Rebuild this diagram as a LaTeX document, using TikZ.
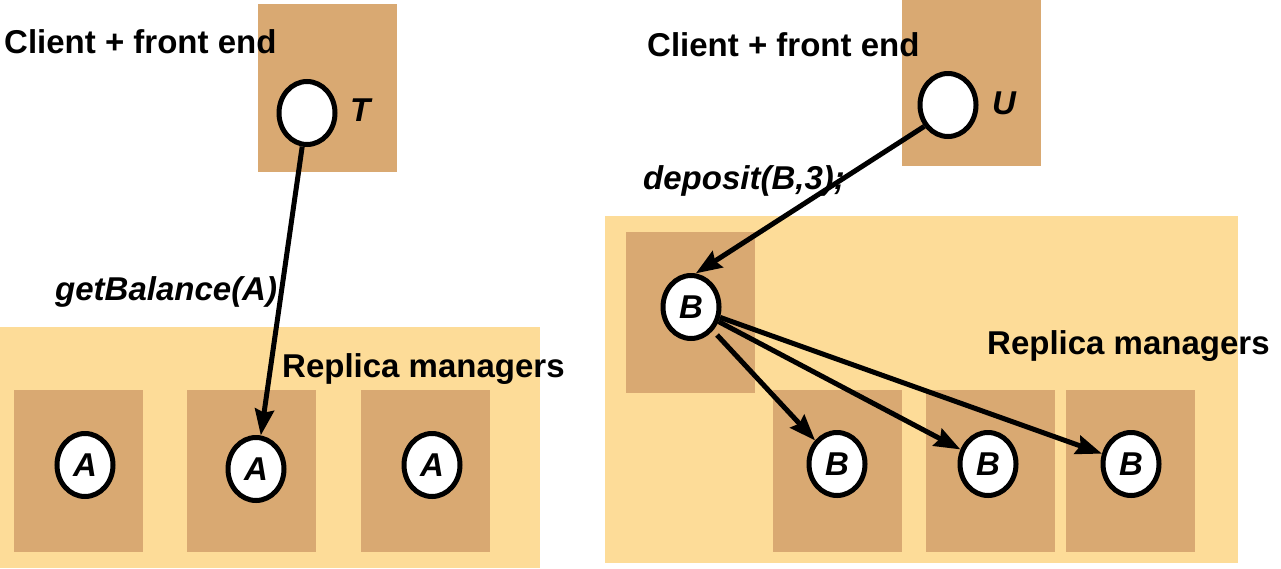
\documentclass[tikz,border=0pt]{standalone}
\usepackage{fontspec}
\setmainfont{Liberation Sans}
\usetikzlibrary{shapes.geometric,arrows.meta}
\definecolor{tanbox}{HTML}{D9A972}
\definecolor{lightbox}{HTML}{FDDC98}
\tikzset{
  outerbox/.style={fill=lightbox,draw=none},
  innerbox/.style={fill=tanbox,draw=none},
  proc/.style={ellipse,draw=black,fill=white,line width=5pt,minimum width=56pt,minimum height=63pt,inner sep=0pt,font=\fontsize{33}{36}\selectfont\bfseries\itshape},
  lbl/.style={anchor=west,inner sep=0pt,font=\fontsize{33}{38}\selectfont\bfseries},
  ilbl/.style={anchor=west,inner sep=0pt,font=\fontsize{33}{38}\selectfont\bfseries\itshape},
  conn/.style={line width=5pt,-{Stealth[inset=3pt,length=26pt,width=19pt]}}
}
\begin{document}
\begin{tikzpicture}[x=1pt,y=-1pt]
\useasboundingbox (0,0) rectangle (1281,568);
% left panel
\fill[innerbox] (258,4) rectangle (397,172);
\fill[outerbox] (0,327) rectangle (540,568);
\fill[innerbox] (14,390) rectangle (143,552);
\fill[innerbox] (187,390) rectangle (316,552);
\fill[innerbox] (361,390) rectangle (490,552);
% right panel
\fill[innerbox] (902,0) rectangle (1041,166);
\fill[outerbox] (605,216) rectangle (1238,563);
\fill[innerbox] (626,232) rectangle (755,393);
\fill[innerbox] (773,390) rectangle (902,552);
\fill[innerbox] (926,390) rectangle (1055,552);
\fill[innerbox] (1066,390) rectangle (1195,552);
% texts
\node[lbl] (cfe1) at (4,42) {Client + front end};
\node[lbl] (cfe2) at (647,45) {Client + front end};
\node[ilbl] (gb) at (55,292) {getBalance(A)};
\node[ilbl] (dep) at (643,181) {deposit(B,3);};
\node[lbl] (rm1) at (282,369) {Replica managers};
\node[lbl] (rm2) at (987,346) {Replica managers};
\node[ilbl] (tl) at (350,110) {T};
\node[ilbl] (ul) at (992,103) {U};
% processes
\node[proc] (T) at (307,113) {};
\node[proc] (U) at (948,105) {};
\node[proc] (A1) at (85,465) {A};
\node[proc] (A2) at (256,469) {A};
\node[proc] (A3) at (432,465) {A};
\node[proc] (B) at (691,307) {B};
\node[proc] (B1) at (837,464) {B};
\node[proc] (B2) at (988,464) {B};
\node[proc] (B3) at (1131,464) {B};
% connectors
\draw[conn] (T) -- (A2);
\draw[conn] (U.222) -- (B.82);
\draw[conn,shorten <=6pt] (B) -- (B1);
\draw[conn] (B) -- (B2);
\draw[conn] (B) -- (B3);
\end{tikzpicture}
\end{document}
